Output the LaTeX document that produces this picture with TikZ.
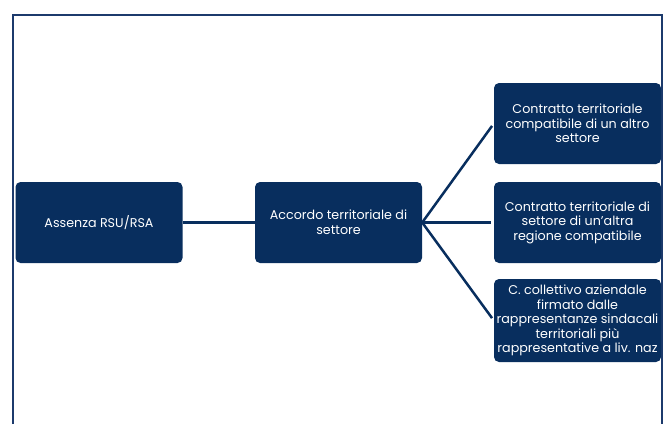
\documentclass[tikz,border=0pt]{standalone}
\usepackage{fontspec}
\setmainfont{Poppins}
\definecolor{navy}{RGB}{8,46,94}
\definecolor{framec}{RGB}{28,58,108}
\begin{document}
\begin{tikzpicture}[x=1pt,y=-1pt,
  box/.style={fill=navy, rounded corners=5pt, text=white, align=center,
    font=\fontsize{12.7}{14.6}\selectfont, inner sep=0pt,
    minimum width=167pt, minimum height=81pt},
  link/.style={draw=navy, line width=2.5pt}]
\useasboundingbox (0,0) rectangle (668,424);
\draw[framec, line width=1.5pt] (13,424) -- (13,15) -- (662,15) -- (662,424);
\node[box] (a) at (99,222.5) {Assenza RSU/RSA};
\node[box] (b) at (338.5,222.5) {Accordo territoriale di\\settore};
\node[box] (c1) at (577.5,123.5) {Contratto territoriale\\compatibile di un altro\\settore};
\node[box] (c2) at (577.5,222.5) {Contratto territoriale di\\settore di un'altra\\regione compatibile};
\node[box, minimum height=83pt] (c3) at (577.5,320.5) {C. collettivo aziendale\\firmato dalle\\rappresentanze sindacali\\territoriali più\\rappresentative a liv. naz};
\draw[link] (a) -- (b);
\draw[link, shorten >=3pt] (b.east) -- (c1.west);
\draw[link, shorten >=3pt] (b.east) -- (c2.west);
\draw[link, shorten >=3pt] (b.east) -- (c3.west);
\end{tikzpicture}
\end{document}
